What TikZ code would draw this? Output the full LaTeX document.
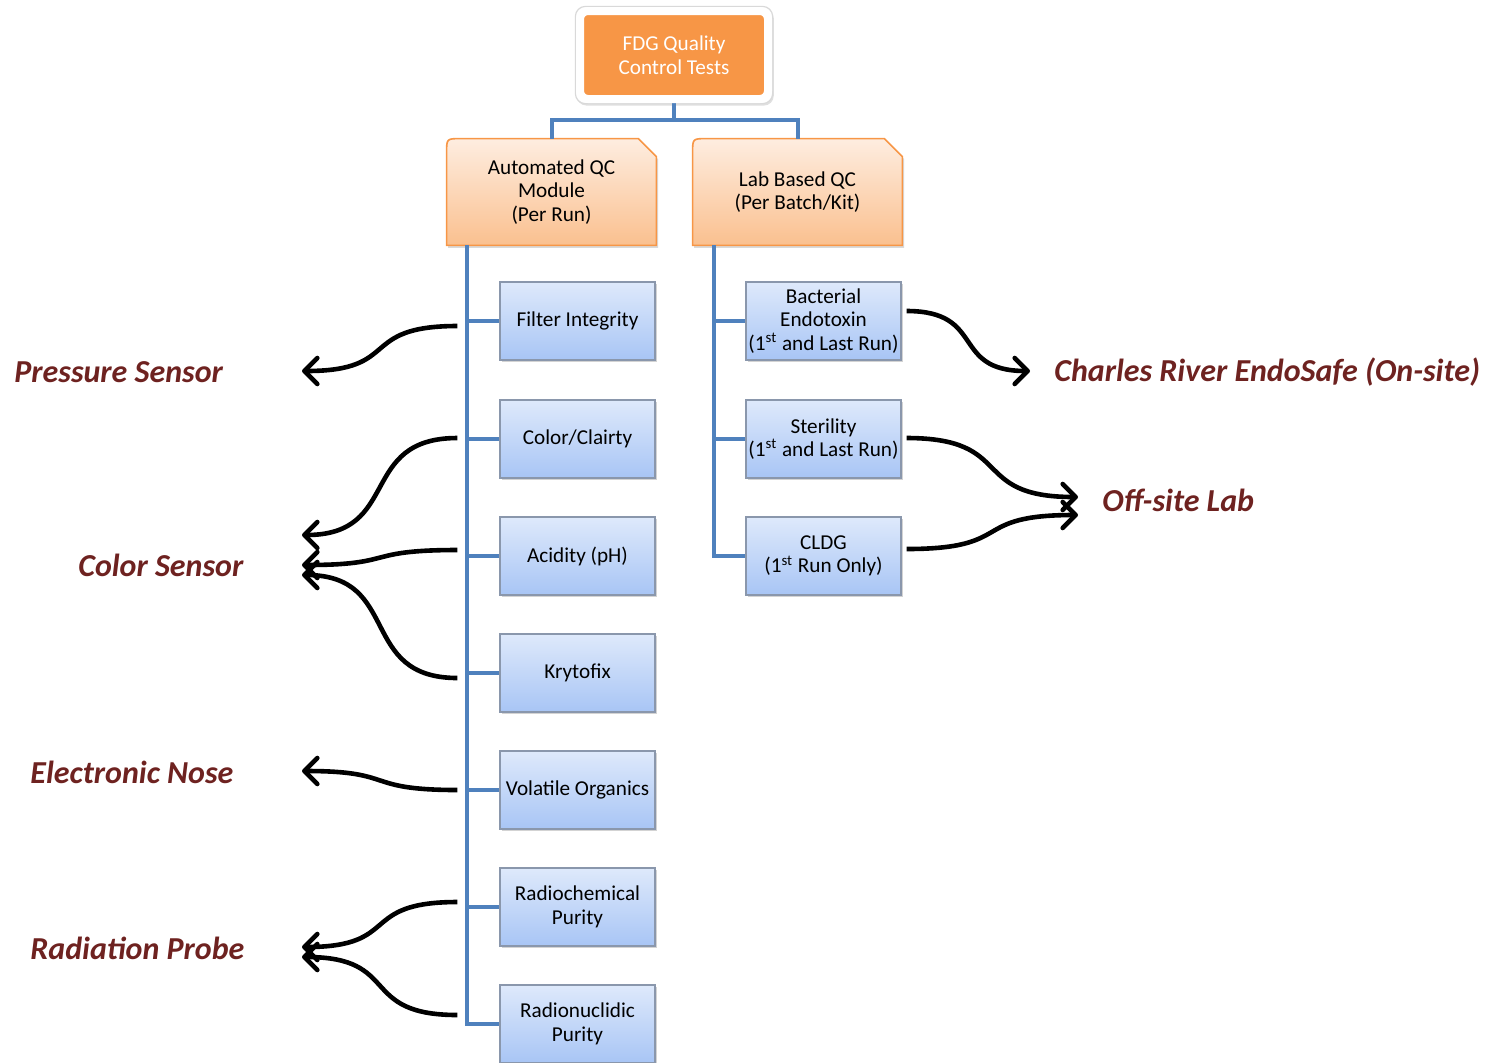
\documentclass[tikz,border=0pt]{standalone}
\usepackage{fontspec}
\setmainfont{Carlito}
\usetikzlibrary{shadows,arrows.meta,calc,backgrounds}
\definecolor{qorange}{HTML}{F79646}
\definecolor{qorangeT}{HTML}{FEEDE0}
\definecolor{qorangeB}{HTML}{FAC08F}
\definecolor{qblueT}{HTML}{DEE9FB}
\definecolor{qblueB}{HTML}{A8C5F5}
\definecolor{qbluebd}{HTML}{8A97AC}
\definecolor{qtree}{HTML}{4F81BD}
\definecolor{qlabel}{HTML}{6E2220}
\begin{document}
\begin{tikzpicture}[x=0.5pt,y=-0.5pt,
  boxfont/.style={font=\fontsize{10.6pt}{11.8pt}\selectfont},
  topbox/.style={boxfont, fill=qorange, draw=white, line width=4pt, rounded corners=4pt,
    minimum width=94pt, minimum height=44pt, text=white, align=center},
  midbox/.style={boxfont, minimum width=104.5pt, minimum height=53pt, align=center, inner sep=1pt},
  midshape/.style={top color=qorangeT, bottom color=qorangeB, draw=qorange, line width=0.8pt,
    drop shadow={opacity=0.3, shadow xshift=0.8pt, shadow yshift=-1.2pt}},
  leaf/.style={boxfont, minimum width=77.5pt, minimum height=39pt, align=center, inner sep=1pt,
    top color=qblueT, bottom color=qblueB, draw=qbluebd, line width=0.6pt,
    drop shadow={opacity=0.35, shadow xshift=1pt, shadow yshift=-1.2pt}},
  tree/.style={draw=qtree, line width=2pt},
  frame/.style={draw=black!15, line width=0.6pt, fill=white, rounded corners=5pt,
    drop shadow={opacity=0.25, shadow xshift=0.6pt, shadow yshift=-1pt}},
  lbl/.style={font=\fontsize{16pt}{19pt}\selectfont\bfseries\itshape, text=qlabel, inner sep=0pt, anchor=west},
  arr/.style={draw=black, line width=2.3pt, -{Straight Barb[length=6.5pt,width=13pt,round]}}
]
\useasboundingbox (0,0) rectangle (1498,1062);

% top
\node[topbox] (top) at (674,55) {FDG Quality\\Control Tests};

% second level
\node[midbox] (auto) at (551.5,192) {Automated QC\\Module\\(Per Run)};
\node[midbox] (lab) at (797.5,192) {Lab Based QC\\(Per Batch/Kit)};

% leaves left
\node[leaf] (fi) at (577.5,321) {Filter Integrity};
\node[leaf] (cc) at (577.5,439) {Color/Clairty};
\node[leaf] (ac) at (577.5,556) {Acidity (pH)};
\node[leaf] (kr) at (577.5,673) {Krytofix};
\node[leaf] (vo) at (577.5,790) {Volatile Organics};
\node[leaf] (rc) at (577.5,907) {Radiochemical\\Purity};
\node[leaf] (rn) at (577.5,1024) {Radionuclidic\\Purity};

% leaves right
\node[leaf] (be) at (823.5,321) {Bacterial\\Endotoxin\\(1\textsuperscript{st} and Last Run)};
\node[leaf] (st) at (823.5,439) {Sterility\\(1\textsuperscript{st} and Last Run)};
\node[leaf] (cl) at (823.5,556) {CLDG\\(1\textsuperscript{st} Run Only)};

\begin{scope}[on background layer]
  \path[frame] ($(top.south west)+(-0.3pt,-0.3pt)$) rectangle ($(top.north east)+(0.3pt,0.3pt)$);
  \foreach \n in {auto,lab}{
    \path[midshape] (\n.south west) -- ($(\n.north west)+(0,-7pt)$)
      .. controls (\n.north west) .. ($(\n.north west)+(7pt,0)$)
      -- ($(\n.north east)+(-9pt,0)$) -- ($(\n.north east)+(0,-9pt)$)
      -- (\n.south east) -- cycle;
  }
  \coordinate (lv) at (467,0);
  \coordinate (rv) at (714,0);
  \draw[tree] (top.south) -- ($(top.south)+(0,17)$) coordinate (bus) -| (auto.north);
  \draw[tree] (bus) -| (lab.north);
  \draw[tree] (lv |- auto.south) |- (rn.west);
  \foreach \n in {fi,cc,ac,kr,vo,rc} \draw[tree] (lv |- \n.west) -- (\n.west);
  \draw[tree] (rv |- lab.south) |- (cl.west);
  \foreach \n in {be,st} \draw[tree] (rv |- \n.west) -- (\n.west);
\end{scope}

% labels
\node[lbl] (ps) at (14,372) {Pressure Sensor};
\node[lbl] (cs) at (78,565) {Color Sensor};
\node[lbl] (en) at (30,772) {Electronic Nose};
\node[lbl] (rp) at (30,948) {Radiation Probe};
\node[lbl] (cr) at (1054,372) {Charles River EndoSafe (On-site)};
\node[lbl] (ol) at (1102,500) {Off-site Lab};

% arrow tips
\coordinate (psT) at (302,371);
\coordinate (csT1) at (302,535);
\coordinate (csT2) at (302,565);
\coordinate (csT3) at (302,575);
\coordinate (enT) at (302,771);
\coordinate (rpT1) at (302,947);
\coordinate (rpT2) at (302,957);
\coordinate (crT) at (1030,371);
\coordinate (olT1) at (1078,497);
\coordinate (olT2) at (1078,515);

\draw[arr] ($(fi.west)+(-42,5)$) .. controls +(-100,0) and +(100,0) .. (psT);
\draw[arr] ($(cc.west)+(-42,-1)$) .. controls +(-100,0) and +(100,0) .. (csT1);
\draw[arr] ($(ac.west)+(-42,-6)$) .. controls +(-95,0) and +(95,0) .. (csT2);
\draw[arr] ($(kr.west)+(-42,5)$) .. controls +(-100,0) and +(100,0) .. (csT3);
\draw[arr] ($(vo.west)+(-42,0)$) .. controls +(-95,0) and +(95,0) .. (enT);
\draw[arr] ($(rc.west)+(-42,-5)$) .. controls +(-100,0) and +(100,0) .. (rpT1);
\draw[arr] ($(rn.west)+(-42,-9)$) .. controls +(-100,0) and +(100,0) .. (rpT2);
\draw[arr] ($(be.east)+(5,-10)$) .. controls +(80,0) and +(-80,0) .. (crT);
\draw[arr] ($(st.east)+(5,-1)$) .. controls +(110,0) and +(-110,0) .. (olT1);
\draw[arr] ($(cl.east)+(5,-7)$) .. controls +(110,0) and +(-110,0) .. (olT2);
\end{tikzpicture}
\end{document}
